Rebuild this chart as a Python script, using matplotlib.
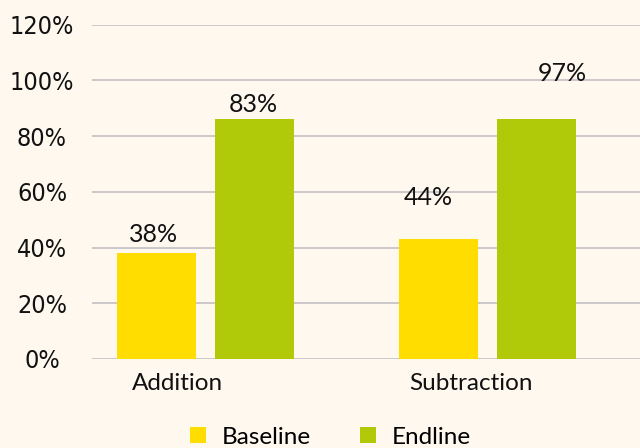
import matplotlib.pyplot as plt
import numpy as np

# data
categories = ['Addition', 'Subtraction']
baseline = [38, 43]
endline = [86, 86]
label_text = ['38%', '83%', '44%', '97%']
label_y = [44.8, 91.3, 58.0, 102.4]
y_ticks = [0, 20, 40, 60, 80, 100, 120]

bg = '#FEF8EE'
c_base = '#FFDD00'
c_end = '#B0CA0A'

fig = plt.figure(figsize=(6.4, 4.48), dpi=100, facecolor=bg)
ax = fig.add_axes([0.14375, 0.1987, 0.85625, 0.7464], facecolor=bg)

x = np.arange(len(categories))
w = 0.28
off = 0.1746
ax.bar(x - off, baseline, w, color=c_base, label='Baseline', zorder=2)
ax.bar(x + off, endline, w, color=c_end, label='Endline', zorder=2)

# value labels (placed as in the original, not exactly on the bars)
label_x = [-0.186, 0.168, 0.789, 1.266]
for lx, ly, t in zip(label_x, label_y, label_text):
    ax.text(lx, ly, t, ha='center', va='center', fontsize=18,
            family=['Lato', 'DejaVu Sans'], color='#111111')

ax.set_xlim(-0.4025, 1.541)
ax.set_ylim(0, 120)
ax.set_yticks(y_ticks)
ax.set_yticklabels([f'{v}%' for v in y_ticks])
ax.grid(axis='y', color='#C4C0C4', linewidth=1.2, zorder=0)
ax.set_axisbelow(True)
for s in ax.spines.values():
    s.set_visible(False)

ax.tick_params(axis='y', length=0, pad=36)
for lab in ax.get_yticklabels():
    lab.set_ha('center')
    lab.set_family(['DejaVu Sans'])
    lab.set_stretch('condensed')
    lab.set_fontsize(18)
    lab.set_color('#111111')

ax.set_xticks(x + np.array([-0.101, -0.059]))
ax.set_xticklabels(categories, fontsize=17.5, family=['Lato', 'DejaVu Sans'], color='#111111')
ax.tick_params(axis='x', length=0, pad=10)

fig.legend(loc='center', bbox_to_anchor=(0.516, 0.024), ncol=2, frameon=False,
           prop={'family': ['Lato', 'DejaVu Sans'], 'size': 17.5},
           handlelength=0.66, handleheight=0.66, handletextpad=0.66, columnspacing=2.0)

plt.savefig('out.png', dpi=100, facecolor=bg)
